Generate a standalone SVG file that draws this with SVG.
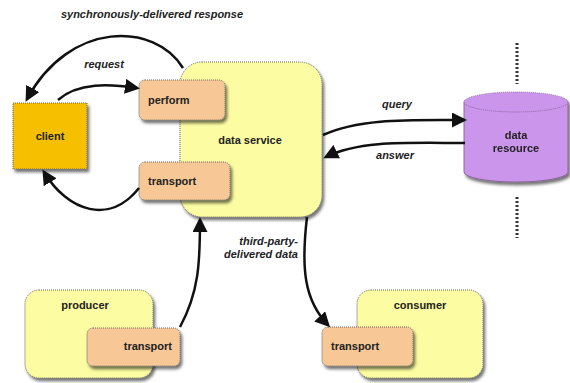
<svg xmlns="http://www.w3.org/2000/svg" width="570" height="383" viewBox="0 0 570 383">
<style>
text{font-family:"Liberation Sans",Arial,sans-serif;font-weight:bold;font-size:11px;fill:#222}
.lbl{font-style:italic}
.box{stroke:#666;stroke-width:1;stroke-dasharray:1,1}
.y{fill:#FCFCA2}
.p{fill:#F7C796}
.c{fill:none;stroke:#111;stroke-width:2.5}
.dot{stroke:#333;stroke-width:3;stroke-dasharray:2,2}
</style>
<defs>
<filter id="sh" x="-20%" y="-20%" width="140%" height="150%">
<feDropShadow dx="2" dy="3" stdDeviation="1.5" flood-color="#000" flood-opacity="0.55"/>
</filter>
<marker id="ah" viewBox="0 0 10 10" refX="8" refY="5" markerWidth="6" markerHeight="6" orient="auto" markerUnits="strokeWidth">
<path d="M0,0 L10,5 L0,10 z" fill="#111"/>
</marker>
</defs>
<rect width="570" height="383" fill="#fff"/>
<g id="labels">
<text class="lbl" x="152" y="18" text-anchor="middle">synchronously-delivered response</text>
<text class="lbl" x="104" y="68" text-anchor="middle">request</text>
<text class="lbl" x="397" y="108" text-anchor="middle">query</text>
<text class="lbl" x="395" y="159" text-anchor="middle">answer</text>
<text class="lbl" x="298" y="245" text-anchor="end">third-party-</text>
<text class="lbl" x="298" y="258" text-anchor="end">delivered data</text>
</g>
<g id="dividers">
<line class="dot" x1="517" y1="43" x2="517" y2="84"/>
<line class="dot" x1="517" y1="197" x2="517" y2="238"/>
</g>
<g id="client">
<rect x="13" y="103" width="74" height="66" fill="#F6C000" class="box" filter="url(#sh)"/>
<text x="50" y="140" text-anchor="middle">client</text>
</g>
<g id="data-service">
<rect x="180" y="62" width="142" height="155" rx="22" class="box y" filter="url(#sh)"/>
<text x="250" y="144" text-anchor="middle">data service</text>
</g>
<g id="perform">
<rect x="139" y="80" width="86" height="40" rx="6" class="box p" filter="url(#sh)"/>
<text x="148" y="104">perform</text>
</g>
<g id="service-transport">
<rect x="139" y="162" width="91" height="38" rx="6" class="box p" filter="url(#sh)"/>
<text x="148" y="185">transport</text>
</g>
<g id="data-resource" filter="url(#sh)">
<path d="M464,102 L464,172 A52,10 0 0 0 568,172 L568,102 Z" fill="#CB95EC" stroke="#7a5a8a" stroke-width="0.8"/>
<ellipse cx="516" cy="102" rx="52" ry="10" fill="#CB95EC" stroke="#7a5a8a" stroke-width="0.8" stroke-dasharray="1,1"/>
<text x="516" y="139" text-anchor="middle">data</text>
<text x="516" y="152" text-anchor="middle">resource</text>
</g>
<g id="producer">
<rect x="25" y="290" width="128" height="88" rx="14" class="box y" filter="url(#sh)"/>
<text x="85" y="309" text-anchor="middle">producer</text>
</g>
<g id="producer-transport">
<rect x="87" y="328" width="93" height="38" rx="6" class="box p" filter="url(#sh)"/>
<text x="172" y="350" text-anchor="end">transport</text>
</g>
<g id="consumer">
<rect x="357" y="290" width="126" height="88" rx="14" class="box y" filter="url(#sh)"/>
<text x="420" y="309" text-anchor="middle">consumer</text>
</g>
<g id="consumer-transport">
<rect x="322" y="327" width="91" height="39" rx="6" class="box p" filter="url(#sh)"/>
<text x="331" y="350">transport</text>
</g>
<g id="connectors">
<path class="c" d="M183,68 C155,22 70,20 27,99" marker-end="url(#ah)"/>
<path class="c" d="M58,100 C78,82 110,84 137,88" marker-end="url(#ah)"/>
<path class="c" d="M139,188 C110,225 68,212 44,172" marker-end="url(#ah)"/>
<path class="c" d="M323,135 C360,118 410,120 464,120" marker-end="url(#ah)"/>
<path class="c" d="M465,143 C410,143 360,140 326,157" marker-end="url(#ah)"/>
<path class="c" d="M180,327 C199,292 200,262 200,220" marker-end="url(#ah)"/>
<path class="c" d="M307,217 C301,268 304,300 328,325" marker-end="url(#ah)"/>
</g>
</svg>
